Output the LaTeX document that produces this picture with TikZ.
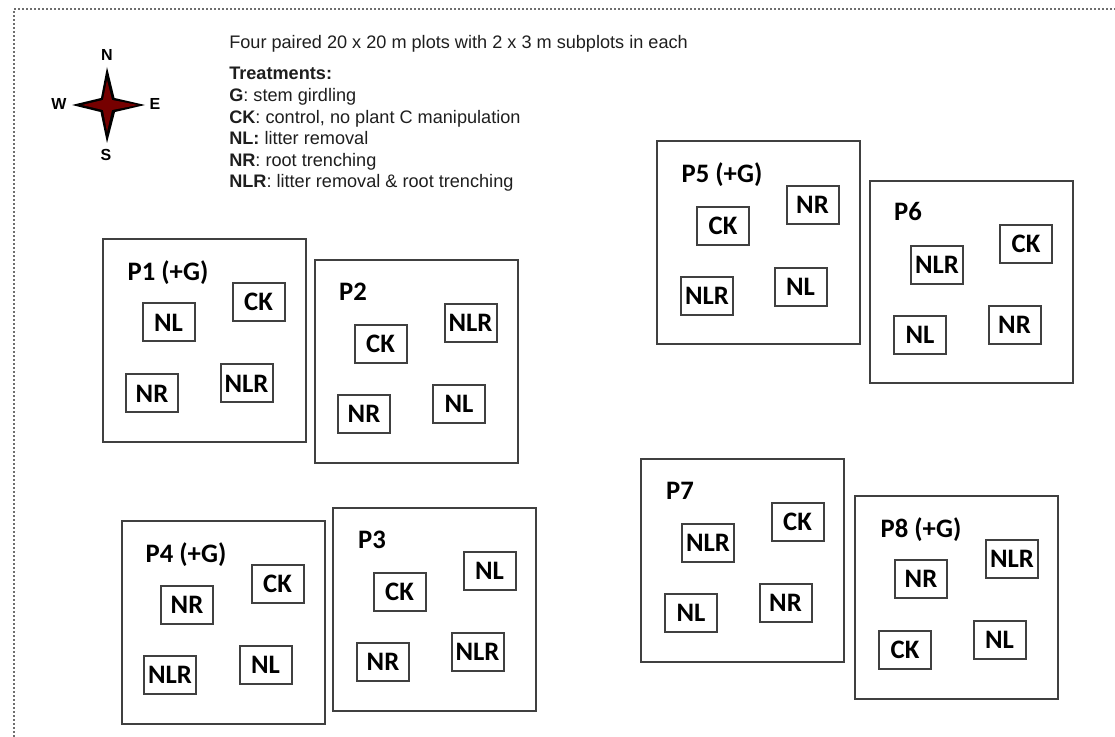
\documentclass[tikz,border=0pt]{standalone}
\usepackage{fontspec}
\setmainfont{Liberation Sans}
\newfontfamily\plotfont{Carlito}
\usetikzlibrary{positioning}
\definecolor{boxgray}{RGB}{64,64,64}
\definecolor{dotgray}{RGB}{110,110,110}
\definecolor{txtgray}{RGB}{30,30,30}
\definecolor{stard}{RGB}{118,0,0}
\tikzset{
  % Large 20 x 20 m plot
  PlotB/.style={rectangle,draw=boxgray,fill=white,line width=1.5pt,
                minimum width=152.2pt,minimum height=152.2pt,inner sep=0pt},
  % Small 2 x 3 m subplot
  SubB/.style={rectangle,draw=boxgray,fill=white,line width=1.5pt,
               minimum width=39pt,minimum height=28.5pt,inner sep=0pt,
               font=\plotfont\bfseries\fontsize{20}{22}\selectfont,text=black},
  % Plot name
  PlotL/.style={inner sep=0pt,font=\plotfont\bfseries\fontsize{20}{22}\selectfont,text=black},
  % Compass letter
  CompL/.style={inner sep=0pt,font=\bfseries\fontsize{12}{14}\selectfont,text=black},
  % Legend text
  LegT/.style={inner sep=0pt,align=left,text=txtgray,
               font=\fontsize{13.6}{16.2}\selectfont},
}
\begin{document}
\begin{tikzpicture}[x=0.75pt,y=-0.75pt]
\useasboundingbox (0,0) rectangle (1115,737);
% ── Dotted frame ─────────────────────────
\draw[dotgray,line width=1.5pt,dash pattern=on 1.5pt off 1.5pt] (14,737) -- (14,9) -- (1115,9);
% ── Compass ──────────────────────────────
\fill[black] (107,67) -- (114.5,98) -- (145,105) -- (115,112) -- (107,143)
  -- (100.5,112) -- (72,105) -- (101,98) -- cycle;
\fill[stard] (107,80) -- (112,100) -- (138,105) -- (112,110) -- (107,132)
  -- (103,110) -- (82,105) -- (103,100) -- cycle;
\node[CompL] at (107,55) (north) {N};
\node[CompL] at (106,155) (south) {S};
\node[CompL] at (59,104) (west) {W};
\node[CompL] at (155,104) (east) {E};
% ── Legend ───────────────────────────────
\node[LegT,anchor=base west] at (229,49) (title)
{Four paired 20 x 20 m plots with 2 x 3 m subplots in each};
\node[LegT,anchor=base west] at (229,188) (treat)
{\textbf{Treatments:}\\
 \textbf{G}: stem girdling\\
 \textbf{CK}: control, no plant C manipulation\\
 \textbf{NL:} litter removal\\
 \textbf{NR}: root trenching\\
 \textbf{NLR}: litter removal \& root trenching};
% ── Plot P1 ──────────────────────────────
\node[PlotB] at (204.5,340.5) (p1) {};
\node[PlotL] at (168,272.5) (p1name) {P1 (+G)};
\node[SubB] at (168.5,322.5) (p1nl) {NL};
\node[SubB] at (258.5,302) (p1ck) {CK};
\node[SubB] at (152,393.5) (p1nr) {NR};
\node[SubB] at (246.5,383.5) (p1nlr) {NLR};
% ── Plot P2 ──────────────────────────────
\node[PlotB] at (416.5,361.5) (p2) {};
\node[PlotL] at (353,292) (p2name) {P2};
\node[SubB] at (380.5,344) (p2ck) {CK};
\node[SubB] at (470.5,323) (p2nlr) {NLR};
\node[SubB] at (364,414) (p2nr) {NR};
\node[SubB] at (459,404) (p2nl) {NL};
% ── Plot P3 ──────────────────────────────
\node[PlotB] at (434.5,609.5) (p3) {};
\node[PlotL] at (372,540) (p3name) {P3};
\node[SubB] at (399.5,592) (p3ck) {CK};
\node[SubB] at (489.5,571) (p3nl) {NL};
\node[SubB] at (383,662) (p3nr) {NR};
\node[SubB] at (477.5,652) (p3nlr) {NLR};
% ── Plot P4 ──────────────────────────────
\node[PlotB] at (223.5,622.5) (p4) {};
\node[PlotL] at (186,554.5) (p4name) {P4 (+G)};
\node[SubB] at (187,605) (p4nr) {NR};
\node[SubB] at (277.5,584) (p4ck) {CK};
\node[SubB] at (170,675) (p4nlr) {NLR};
\node[SubB] at (265.5,665) (p4nl) {NL};
% ── Plot P5 ──────────────────────────────
\node[PlotB] at (758.5,242.5) (p5) {};
\node[PlotL] at (722,174.5) (p5name) {P5 (+G)};
\node[SubB] at (723,226) (p5ck) {CK};
\node[SubB] at (812.5,205) (p5nr) {NR};
\node[SubB] at (707,296) (p5nlr) {NLR};
\node[SubB] at (800.5,287) (p5nl) {NL};
% ── Plot P6 ──────────────────────────────
\node[PlotB] at (971.5,282) (p6) {};
\node[PlotL] at (908,212) (p6name) {P6};
\node[SubB] at (937,265) (p6nlr) {NLR};
\node[SubB] at (1026,244) (p6ck) {CK};
\node[SubB] at (920,335) (p6nl) {NL};
\node[SubB] at (1014.5,325) (p6nr) {NR};
% ── Plot P7 ──────────────────────────────
\node[PlotB] at (742.5,560.5) (p7) {};
\node[PlotL] at (680,491) (p7name) {P7};
\node[SubB] at (708,543) (p7nlr) {NLR};
\node[SubB] at (797.5,522) (p7ck) {CK};
\node[SubB] at (691,613) (p7nl) {NL};
\node[SubB] at (785.5,603) (p7nr) {NR};
% ── Plot P8 ──────────────────────────────
\node[PlotB] at (956.8,597.5) (p8) {};
\node[PlotL] at (921,529.5) (p8name) {P8 (+G)};
\node[SubB] at (921,579) (p8nr) {NR};
\node[SubB] at (1012,559) (p8nlr) {NLR};
\node[SubB] at (905,650) (p8ck) {CK};
\node[SubB] at (999.5,640) (p8nl) {NL};
\end{tikzpicture}
\end{document}
